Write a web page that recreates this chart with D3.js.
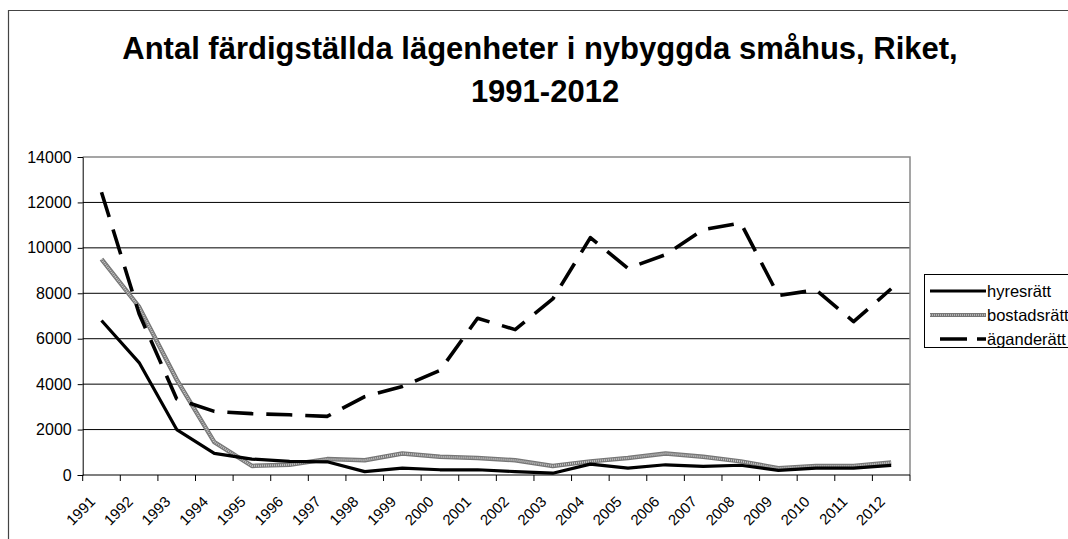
<!DOCTYPE html>
<html>
<head>
<meta charset="utf-8">
<script src="https://cdn.jsdelivr.net/npm/d3@7"></script>
<style>
  body { margin: 0; background: #fff; }
  svg { display: block; font-family: "Liberation Sans", Arial, sans-serif; }
</style>
</head>
<body>
<svg id="chart" width="1068" height="539"></svg>
<script>
// data
const years = ["1991","1992","1993","1994","1995","1996","1997","1998","1999","2000","2001",
  "2002","2003","2004","2005","2006","2007","2008","2009","2010","2011","2012"];
const hyresratt = [6800,4950,2000,950,700,600,580,150,300,230,230,150,80,480,300,450,380,430,200,300,300,420];
const bostadsratt = [9500,7400,4200,1450,400,450,700,650,950,800,750,650,400,600,750,950,800,600,300,400,400,550];
const aganderatt = [12450,7100,3350,2800,2700,2650,2580,3450,3900,4600,6900,6400,7750,10450,9100,9700,10800,11100,7900,8150,6750,8200];
const yTicks = [0,2000,4000,6000,8000,10000,12000,14000];

const svg = d3.select("#chart");
const plotLeft = 82.7, plotRight = 910, plotTop = 157, plotBottom = 475;

// ramen runt hela diagrammet
svg.append("path")
  .attr("d", "M8.5,545V10.5H1080")
  .attr("fill", "none").attr("stroke", "#444").attr("stroke-width", 1.2);

// titel
const title = svg.append("text")
  .attr("text-anchor", "middle")
  .attr("font-weight", "bold")
  .attr("font-size", "31px")
  .attr("fill", "#000");
title.append("tspan").attr("x", 540).attr("y", 59).text("Antal färdigställda lägenheter i nybyggda småhus, Riket,");
title.append("tspan").attr("x", 545).attr("y", 102).text("1991-2012");

const x = d3.scaleBand().domain(years).range([plotLeft, plotRight]).padding(0);
const y = d3.scaleLinear().domain([0, 14000]).range([plotBottom, plotTop]);
const cx = d => x(d) + x.bandwidth() / 2;

// stödlinjer
svg.append("g")
  .selectAll("line")
  .data(yTicks.filter(v => v > 0 && v < 14000))
  .join("line")
  .attr("x1", plotLeft).attr("x2", plotRight)
  .attr("y1", d => y(d)).attr("y2", d => y(d))
  .attr("stroke", "#000").attr("stroke-width", 1);

// plotytans kant (topp och höger)
svg.append("path")
  .attr("d", `M${plotLeft},${y(14000)}H${plotRight}V${plotBottom}`)
  .attr("fill", "none").attr("stroke", "#888").attr("stroke-width", 1.5);

// y-axel
const yAxis = svg.append("g")
  .attr("transform", `translate(${plotLeft},0)`)
  .call(d3.axisLeft(y).tickValues(yTicks).tickSize(5).tickPadding(6).tickFormat(d3.format("d")));
yAxis.select(".domain").attr("stroke", "#000");
yAxis.selectAll("text").attr("font-size", "16px").attr("fill", "#000")
  .attr("font-family", "Liberation Sans, Arial, sans-serif");

// x-axel med streck mellan kategorierna
const xAxisG = svg.append("g").attr("transform", `translate(0,${plotBottom})`);
xAxisG.append("line").attr("x1", plotLeft).attr("x2", plotRight).attr("stroke", "#000").attr("stroke-width", 1.2);
xAxisG.selectAll("line.tick")
  .data(years.concat(["end"]))
  .join("line")
  .attr("class", "tick")
  .attr("x1", (d, i) => plotLeft + i * x.bandwidth())
  .attr("x2", (d, i) => plotLeft + i * x.bandwidth())
  .attr("y1", 0).attr("y2", 6)
  .attr("stroke", "#000");
xAxisG.selectAll("text")
  .data(years)
  .join("text")
  .attr("transform", d => `translate(${cx(d) - 9},24) rotate(-45)`)
  .attr("text-anchor", "end")
  .attr("dy", "0.35em")
  .attr("font-size", "15px")
  .text(d => d);

const line = d3.line().x((d, i) => cx(years[i])).y(d => y(d));

// bostadsrätt: grå mönstrad linje
svg.append("path").datum(bostadsratt)
  .attr("d", line).attr("fill", "none")
  .attr("stroke", "#777").attr("stroke-width", 4.5).attr("stroke-linejoin", "round");
svg.append("path").datum(bostadsratt)
  .attr("d", line).attr("fill", "none")
  .attr("stroke", "#c8c8c8").attr("stroke-width", 2).attr("stroke-dasharray", "1,1");

// hyresrätt
svg.append("path").datum(hyresratt)
  .attr("d", line).attr("fill", "none")
  .attr("stroke", "#000").attr("stroke-width", 3.2).attr("stroke-linejoin", "round");

// äganderätt
svg.append("path").datum(aganderatt)
  .attr("d", line).attr("fill", "none")
  .attr("stroke", "#000").attr("stroke-width", 3.6)
  .attr("stroke-dasharray", "26,13").attr("stroke-linejoin", "round");

// förklaring
const lg = svg.append("g");
lg.append("rect").attr("x", 924.5).attr("y", 274.5).attr("width", 200).attr("height", 73)
  .attr("fill", "#fff").attr("stroke", "#000").attr("stroke-width", 1);
const items = [
  { name: "hyresrätt", kind: "solid" },
  { name: "bostadsrätt", kind: "gray" },
  { name: "äganderätt", kind: "dash" }
];
items.forEach((it, i) => {
  const yy = 291 + i * 24;
  if (it.kind === "gray") {
    lg.append("line").attr("x1", 930).attr("x2", 986).attr("y1", yy).attr("y2", yy)
      .attr("stroke", "#777").attr("stroke-width", 4);
    lg.append("line").attr("x1", 930).attr("x2", 986).attr("y1", yy).attr("y2", yy)
      .attr("stroke", "#c8c8c8").attr("stroke-width", 1.6).attr("stroke-dasharray", "1,1");
  } else {
    lg.append("line").attr("x1", 930).attr("x2", 986).attr("y1", yy).attr("y2", yy)
      .attr("stroke", "#000").attr("stroke-width", it.kind === "dash" ? 3.6 : 3.2)
      .attr("stroke-dasharray", it.kind === "dash" ? "0,10,27,10,30" : null);
  }
  lg.append("text").attr("x", 987).attr("y", yy).attr("dy", "0.35em")
    .attr("font-size", "16.5px").text(it.name);
});
</script>
</body>
</html>
